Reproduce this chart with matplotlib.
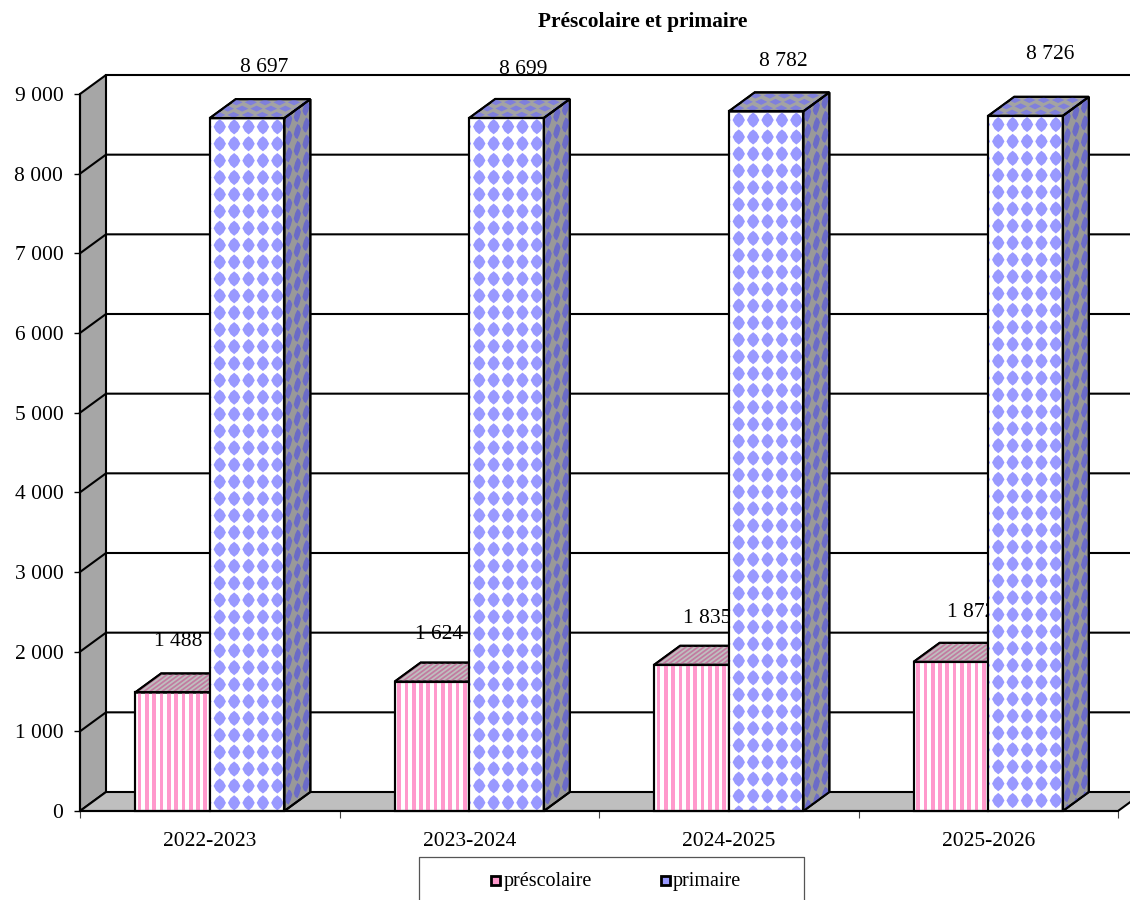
import numpy as np
import matplotlib
matplotlib.use('Agg')
import matplotlib.pyplot as plt
from matplotlib.patches import Polygon, Rectangle
from matplotlib.collections import PolyCollection

plt.rcParams['font.family'] = ['Liberation Serif', 'DejaVu Serif']

# Data
years = ['2022-2023', '2023-2024', '2024-2025', '2025-2026']
prescolaire = [1488, 1624, 1835, 1872]
primaire = [8697, 8699, 8782, 8726]
y_ticks = [0, 1000, 2000, 3000, 4000, 5000, 6000, 7000, 8000, 9000]

# label shifts in pixels from the bar top, the original has them scattered
pre_shift = [(6, 51), (7, 47), (16, 46), (20, 49)]
pri_shift = [(17, 51), (17, 48), (17, 50), (25, 61)]

W, H = 1130, 900
LEFT, RIGHT, BOTTOM, TOP = 80, 1118, 811, 94
PX = 4 / (RIGHT - LEFT)      # x data units per pixel
PY = 9000 / (BOTTOM - TOP)   # y data units per pixel
DX, DY = 26 * PX, 19 * PY    # 3d depth
BAR = 74.6 * PX
FS = 15.5
LW = 1.5

fig = plt.figure(figsize=(W / 100, H / 100), dpi=100)
ax = fig.add_axes([LEFT / W, 1 - BOTTOM / H, (RIGHT - LEFT) / W, (BOTTOM - TOP) / H])
ax.set_xlim(0, 4)
ax.set_ylim(0, 9000)
ax.patch.set_visible(False)


def fmt(v):
    return f'{v:,}'.replace(',', ' ')


def poly(points, **kw):
    kw.setdefault('edgecolor', 'black')
    kw.setdefault('linewidth', LW)
    kw.setdefault('clip_on', False)
    p = Polygon(points, closed=True, joinstyle='miter', **kw)
    ax.add_patch(p)
    return p


def para(x, y, ux, uy, vx, vy):
    return [(x, y), (x + ux, y + uy), (x + ux + vx, y + uy + vy), (x + vx, y + vy)]


def diamonds(clip, x, y, ux, uy, vx, vy, nu, nv, color, z, off, step, size):
    # lattice of rounded diamonds on a face, u and v are pixel vectors in data units
    shape = [(1, 0), (0.6, 0.6), (0, 1), (-0.6, 0.6), (-1, 0), (-0.6, -0.6), (0, -1), (0.6, -0.6)]
    shapes = []
    for i in range(-1, nu + 1):
        for j in range(-1, nv + 1):
            cu = off[0] + i * step[0]
            cv = off[1] + j * step[1]
            shapes.append([(x + (cu + a * size[0]) * ux + (cv + b * size[1]) * vx,
                            y + (cu + a * size[0]) * uy + (cv + b * size[1]) * vy)
                           for a, b in shape])
    pc = PolyCollection(shapes, facecolors=color, edgecolors='none', zorder=z)
    ax.add_collection(pc, autolim=False)
    pc.set_clip_path(clip)


# walls and floor
poly(para(0, 0, DX, DY, 0, 9000), facecolor='#a6a6a6', zorder=1)
poly(para(0, 0, DX, DY, 4, 0), facecolor='#bfbfbf', zorder=1)
ax.plot([DX, 4 + DX], [9000 + DY, 9000 + DY], color='black', lw=LW, clip_on=False, zorder=2)
for v in y_ticks[1:-1]:
    ax.plot([0, DX, 4 + DX], [v, v + DY, v + DY], color='black', lw=LW, clip_on=False, zorder=2)

z = 5
for i in range(4):
    xl = i + 0.5 - BAR
    xc = i + 0.5
    xm = i + 0.5 + BAR

    # data labels sit under the bars
    sx, sy = pre_shift[i]
    ax.text(xc - BAR / 2 + sx * PX, prescolaire[i] + sy * PY, fmt(prescolaire[i]), ha='center', va='center',
            fontsize=FS, zorder=3, clip_on=False)
    sx, sy = pri_shift[i]
    ax.text(xc + BAR / 2 + sx * PX, primaire[i] + sy * PY, fmt(primaire[i]), ha='center', va='center',
            fontsize=FS, zorder=3, clip_on=False)

    # préscolaire bar
    v = prescolaire[i]
    poly(para(xl, 0, BAR, 0, 0, v), facecolor='white', zorder=z)
    clip = poly(para(xl, 0, BAR, 0, 0, v), facecolor='none', edgecolor='none', zorder=z)
    for k in range(11):
        s = Rectangle((xl + (2.6 + k * 7.3) * PX, 0), 3.7 * PX, v, facecolor='#ff99cc',
                      edgecolor='none', zorder=z + 0.1)
        ax.add_patch(s)
        s.set_clip_path(clip)
    poly(para(xl, 0, BAR, 0, 0, v), facecolor='none', zorder=z + 0.2)

    top = para(xl, v, BAR, 0, DX, DY)
    poly(top, facecolor='#bfbfbf', zorder=z)
    clip = poly(top, facecolor='none', edgecolor='none', zorder=z)
    stripes = []
    for k in range(-8, 22):
        a = xl + k * 6.0 * PX
        stripes.append([(a, v), (a + 3.0 * PX, v), (a + 3.0 * PX + DX, v + DY), (a + DX, v + DY)])
    pc = PolyCollection(stripes, facecolors='#c27ba0', edgecolors='none', zorder=z + 0.1)
    ax.add_collection(pc, autolim=False)
    pc.set_clip_path(clip)
    poly(top, facecolor='none', zorder=z + 0.2)
    z += 1

    # primaire bar
    v = primaire[i]
    front = para(xc, 0, BAR, 0, 0, v)
    poly(front, facecolor='white', zorder=z)
    clip = poly(front, facecolor='none', edgecolor='none', zorder=z)
    diamonds(clip, xc, v, PX, 0, 0, -PY, 6, 42, '#9999ff', z + 0.1,
             off=(10.0, 8.7), step=(14.4, 16.9), size=(6.2, 7.6))
    poly(front, facecolor='none', zorder=z + 0.2)

    side = para(xm, 0, DX, DY, 0, v)
    poly(side, facecolor='#999999', zorder=z)
    clip = poly(side, facecolor='none', edgecolor='none', zorder=z)
    diamonds(clip, xm, v, PX, 19 / 26 * PY, 0, -PY, 3, 42, '#6b6bc8', z + 0.1,
             off=(4.3, 6.0), step=(8.7, 16.9), size=(3.6, 7.6))
    poly(side, facecolor='none', zorder=z + 0.2)

    top = para(xc, v, BAR, 0, DX, DY)
    poly(top, facecolor='#a3a3a3', zorder=z)
    clip = poly(top, facecolor='none', edgecolor='none', zorder=z)
    shapes = []
    for row in range(3):
        cy = 3.2 + row * 6.3
        for a in range(-2, 7):
            cx = 5 + a * 14.4 + cy * 26 / 19
            shapes.append([(xc + (cx + p) * PX, v + (cy + q) * PY)
                           for p, q in [(6.2, 0), (0, 3.0), (-6.2, 0), (0, -3.0)]])
    pc = PolyCollection(shapes, facecolors='#7f7fdc', edgecolors='none', zorder=z + 0.1)
    ax.add_collection(pc, autolim=False)
    pc.set_clip_path(clip)
    poly(top, facecolor='none', zorder=z + 0.2)
    z += 1

# axes
for name in ['top', 'right']:
    ax.spines[name].set_visible(False)
for name in ['left', 'bottom']:
    ax.spines[name].set_linewidth(LW)
    ax.spines[name].set_zorder(50)
ax.set_yticks(y_ticks)
ax.set_yticklabels([fmt(v) for v in y_ticks], fontsize=FS)
ax.tick_params(axis='y', length=4, width=1.0, pad=8)
ax.set_xticks(range(5))
ax.set_xticklabels([])
ax.set_xticks(np.arange(4) + 0.5, labels=years, minor=True, fontsize=FS)
ax.tick_params(axis='x', which='major', length=5, width=0.8, color='#444444')
ax.tick_params(axis='x', which='minor', length=0, pad=15)

# title
fig.text(643 / W, 1 - 22.5 / H, 'Préscolaire et primaire', ha='center', va='center',
         fontsize=15.4, fontweight='bold')

# legend, its lower edge is cut by the image border
fig.add_artist(plt.Line2D([419 / W, 419 / W, 804 / W, 804 / W], [0, 1 - 857 / H, 1 - 857 / H, 0],
                          color='#555555', lw=0.9))
fig.add_artist(Rectangle((491 / W, 1 - 885 / H), 9 / W, 9 / H, transform=fig.transFigure,
                         facecolor='#ff99cc', edgecolor='black', lw=2.0))
fig.add_artist(Rectangle((661 / W, 1 - 885 / H), 9 / W, 9 / H, transform=fig.transFigure,
                         facecolor='#9999ff', edgecolor='black', lw=2.0))
fig.text(504 / W, 1 - 881.5 / H, 'préscolaire', ha='left', va='center', fontsize=14.5)
fig.text(673 / W, 1 - 881.5 / H, 'primaire', ha='left', va='center', fontsize=14.5)

fig.savefig('out.png', dpi=100)
